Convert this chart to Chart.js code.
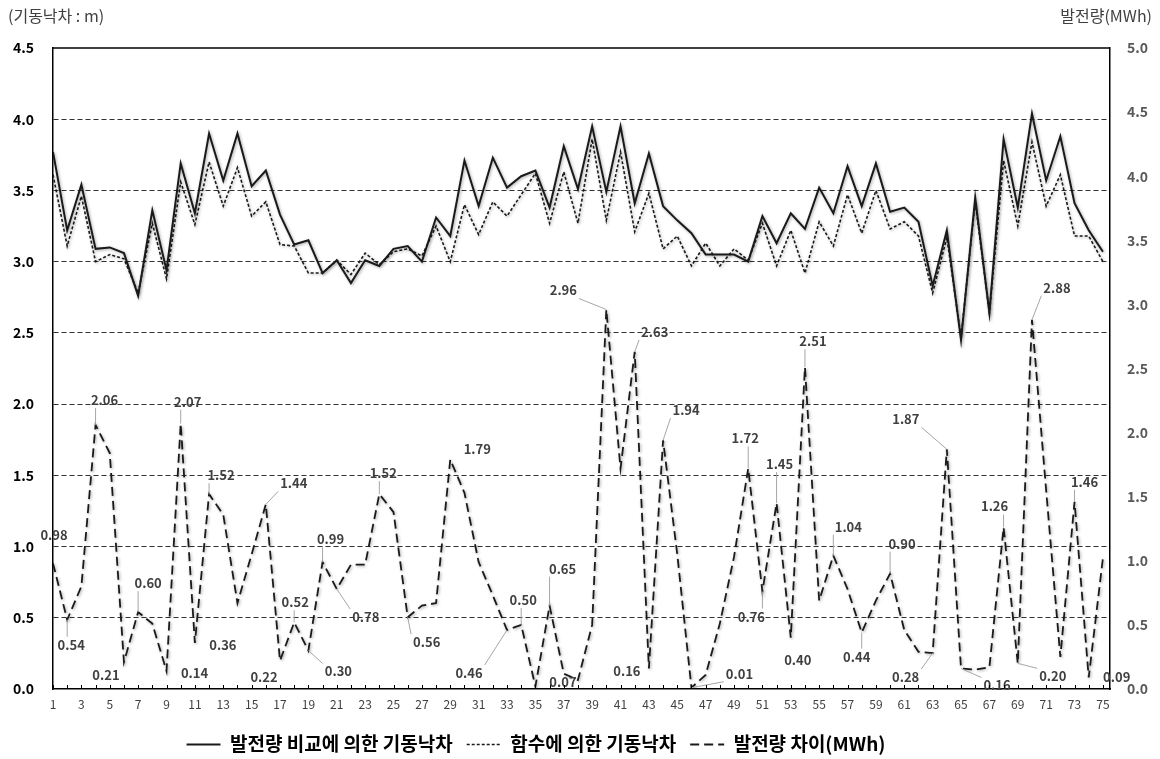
<!DOCTYPE html>
<html>
<head>
<meta charset="utf-8">
<script src="https://cdn.jsdelivr.net/npm/chart.js@4.4.1/dist/chart.umd.min.js"></script>
<style>
  html, body { margin: 0; padding: 0; background: #ffffff; }
  #wrap { width: 1160px; height: 759px; position: relative; }
</style>
</head>
<body>
<div id="wrap"><canvas id="chart" width="1160" height="759"></canvas></div>
<script>
// Case numbers along the x axis
const categories = [
  1, 2, 3, 4, 5, 6, 7, 8, 9, 10, 11, 12, 13, 14, 15, 16, 17, 18, 19, 20,
  21, 22, 23, 24, 25, 26, 27, 28, 29, 30, 31, 32, 33, 34, 35, 36, 37, 38, 39, 40,
  41, 42, 43, 44, 45, 46, 47, 48, 49, 50, 51, 52, 53, 54, 55, 56, 57, 58, 59, 60,
  61, 62, 63, 64, 65, 66, 67, 68, 69, 70, 71, 72, 73, 74, 75
];

// Start-up head (m) found by comparing generated energy
const headByGeneration = [
  3.77, 3.22, 3.54, 3.09, 3.10, 3.06, 2.76, 3.36, 2.94, 3.69,
  3.34, 3.90, 3.57, 3.90, 3.53, 3.64, 3.33, 3.12, 3.15, 2.92,
  3.01, 2.85, 3.01, 2.97, 3.09, 3.11, 3.00, 3.31, 3.18, 3.71,
  3.39, 3.73, 3.52, 3.60, 3.64, 3.38, 3.81, 3.51, 3.95, 3.49,
  3.95, 3.41, 3.76, 3.39, 3.29, 3.20, 3.05, 3.05, 3.05, 3.00,
  3.32, 3.13, 3.34, 3.23, 3.52, 3.34, 3.67, 3.39, 3.69, 3.35,
  3.38, 3.28, 2.83, 3.22, 2.45, 3.45, 2.64, 3.86, 3.38, 4.04,
  3.57, 3.88, 3.41, 3.22, 3.07
];

// Start-up head (m) given by the fitted function
const headByFunction = [
  3.61, 3.11, 3.46, 3.00, 3.05, 3.02, 2.78, 3.27, 2.88, 3.56,
  3.26, 3.70, 3.39, 3.66, 3.32, 3.42, 3.12, 3.11, 2.92, 2.92,
  3.01, 2.91, 3.06, 2.98, 3.07, 3.09, 3.04, 3.25, 3.00, 3.40,
  3.19, 3.42, 3.32, 3.47, 3.62, 3.27, 3.63, 3.27, 3.86, 3.29,
  3.77, 3.21, 3.48, 3.09, 3.18, 2.97, 3.13, 2.97, 3.09, 3.01,
  3.27, 2.97, 3.22, 2.92, 3.28, 3.11, 3.47, 3.20, 3.50, 3.23,
  3.28, 3.18, 2.78, 3.17, 2.47, 3.42, 2.64, 3.71, 3.25, 3.84,
  3.39, 3.61, 3.18, 3.18, 3.00
];

// Difference in generated energy (MWh)
const generationGap = [
  0.98, 0.54, 0.80, 2.06, 1.84, 0.21, 0.60, 0.51, 0.14, 2.07,
  0.36, 1.52, 1.36, 0.67, 1.05, 1.44, 0.22, 0.52, 0.30, 0.99,
  0.78, 0.97, 0.97, 1.52, 1.38, 0.56, 0.65, 0.67, 1.79, 1.53,
  0.99, 0.73, 0.46, 0.50, 0.02, 0.65, 0.12, 0.07, 0.50, 2.96,
  1.72, 2.63, 0.16, 1.94, 1.05, 0.01, 0.11, 0.51, 1.03, 1.72,
  0.76, 1.45, 0.40, 2.51, 0.69, 1.04, 0.78, 0.44, 0.69, 0.90,
  0.46, 0.29, 0.28, 1.87, 0.16, 0.15, 0.17, 1.26, 0.20, 2.88,
  1.55, 0.25, 1.46, 0.09, 1.02
];

// Axis ranges and steps
const headAxis = { min: 0, max: 4.5, step: 0.5 };
const energyAxis = { min: 0, max: 5.0, step: 0.5 };

const seriesNames = ['발전량 비교에 의한 기동낙차', '함수에 의한 기동낙차', '발전량 차이(MWh)'];
const headAxisTitle = '(기동낙차 : m)';
const energyAxisTitle = '발전량(MWh)';

// Value labels on the energy-gap line: [case, dx, dy, leader line]
const gapLabelLayout = [
  [1, 1, -28, 0], [2, 4, 25, 1], [4, 9, -25, 1], [6, -18, 13, 0], [7, 10, -29, 1],
  [9, 28, 2, 0], [10, 7, -22, 1], [11, 28, 2, 0], [12, 12, -19, 1], [16, 28, -21, 1],
  [17, -16, 16, 0], [18, 1, -20, 1], [19, 30, 21, 1], [20, 8, -23, 1], [21, 29, 28, 1],
  [24, 4, -21, 1], [26, 19, 25, 1], [29, 27, -10, 0], [33, -38, 43, 1], [34, 2, -25, 1],
  [36, 13, -37, 1], [38, -15, 2, 0], [40, -43, -19, 1], [42, 20, -20, 1], [43, -22, 3, 0],
  [44, 23, -30, 1], [46, 48, -14, 1], [50, -3, -30, 1], [51, -11, 25, 1], [52, 3, -39, 1],
  [53, 7, 22, 0], [54, 8, -26, 1], [56, 15, -29, 1], [58, -5, 24, 1], [60, 12, -30, 1],
  [63, -27, 24, 1], [64, -41, -30, 1], [65, 36, 17, 1], [68, -9, -21, 1], [69, 35, 13, 1],
  [70, 25, -32, 1], [73, 10, -20, 1], [74, 28, 0, 0]
];

const FONT = "'Noto Sans CJK KR', 'Noto Sans', sans-serif";
const LEGEND_SWATCH = 34;
const LEGEND_SHIFT_X = 44;
const LEGEND_SHIFT_Y = 4;

const toPoints = (vals) => categories.map((c, i) => ({ x: c, y: vals[i] }));

// Soft halo under the lines
const lineHalo = {
  id: 'lineHalo',
  beforeDatasetsDraw(chart) {
    const ctx = chart.ctx;
    ctx.save();
    ctx.shadowColor = 'rgba(0,0,0,0.35)';
    ctx.shadowBlur = 3;
    ctx.shadowOffsetX = 1;
    ctx.shadowOffsetY = 1;
  },
  afterDatasetsDraw(chart) {
    chart.ctx.restore();
  }
};

// Legend row sits slightly left of centre; swatches are drawn as real line samples
const legendSwatches = {
  id: 'legendSwatches',
  afterLayout(chart) {
    const legend = chart.legend;
    if (!legend) return;
    legend.right -= LEGEND_SHIFT_X * 2;
    legend.top += LEGEND_SHIFT_Y;
    legend.bottom += LEGEND_SHIFT_Y;
  },
  afterDraw(chart) {
    const legend = chart.legend;
    if (!legend || !legend.legendHitBoxes) return;
    const ctx = chart.ctx;
    ctx.save();
    legend.legendHitBoxes.forEach((box, i) => {
      const ds = chart.data.datasets[i];
      const y = Math.round(box.top + box.height / 2) + 0.5;
      ctx.strokeStyle = '#1a1a1a';
      ctx.lineWidth = ds.borderWidth;
      ctx.setLineDash(ds.borderDash || []);
      ctx.beginPath();
      ctx.moveTo(box.left, y);
      ctx.lineTo(box.left + LEGEND_SWATCH, y);
      ctx.stroke();
    });
    ctx.restore();
  }
};

// Plot frame, inner tick marks on the category axis, and the two axis captions
const frameAndTitles = {
  id: 'frameAndTitles',
  afterDraw(chart) {
    const { ctx, chartArea } = chart;
    const xs = chart.scales.x;
    ctx.save();
    ctx.strokeStyle = '#000';
    ctx.lineWidth = 1.5;
    ctx.beginPath();
    ctx.moveTo(chartArea.left, chartArea.top);
    ctx.lineTo(chartArea.right, chartArea.top);
    ctx.stroke();
    ctx.lineWidth = 1;
    ctx.beginPath();
    categories.forEach(c => {
      const px = Math.round(xs.getPixelForValue(c)) + 0.5;
      ctx.moveTo(px, chartArea.bottom);
      ctx.lineTo(px, chartArea.bottom - 4);
    });
    ctx.stroke();
    ctx.fillStyle = '#404040';
    ctx.font = '16px ' + FONT;
    ctx.textBaseline = 'middle';
    ctx.textAlign = 'left';
    ctx.fillText(headAxisTitle, 8, 16);
    ctx.textAlign = 'right';
    ctx.fillText(energyAxisTitle, 1152, 16);
    ctx.restore();
  }
};

// Value labels with leader lines for the energy-gap series
const gapLabels = {
  id: 'gapLabels',
  afterDatasetsDraw(chart) {
    const ctx = chart.ctx;
    const meta = chart.getDatasetMeta(2);
    ctx.save();
    ctx.font = 'bold 13px ' + FONT;
    ctx.textAlign = 'center';
    ctx.textBaseline = 'middle';
    gapLabelLayout.forEach(([cat, dx, dy, leader]) => {
      const idx = categories.indexOf(cat);
      const el = meta.data[idx];
      const text = generationGap[idx].toFixed(2);
      const lx = el.x + dx, ly = el.y + dy;
      if (leader) {
        const w = ctx.measureText(text).width / 2 + 2;
        const h = 8;
        const nx = Math.max(lx - w, Math.min(el.x, lx + w));
        const ny = Math.max(ly - h, Math.min(el.y, ly + h));
        ctx.strokeStyle = '#a6a6a6';
        ctx.lineWidth = 1;
        ctx.beginPath();
        ctx.moveTo(el.x, el.y);
        ctx.lineTo(nx, ny);
        ctx.stroke();
      }
      ctx.fillStyle = '#404040';
      ctx.fillText(text, lx, ly);
    });
    ctx.restore();
  }
};

const PLOT_BOTTOM = 689;

new Chart(document.getElementById('chart'), {
  type: 'line',
  data: {
    datasets: [
      {
        label: seriesNames[0],
        data: toPoints(headByGeneration),
        yAxisID: 'yHead',
        borderColor: '#1a1a1a',
        backgroundColor: '#1a1a1a',
        borderWidth: 2,
        pointRadius: 0,
        tension: 0
      },
      {
        label: seriesNames[1],
        data: toPoints(headByFunction),
        yAxisID: 'yHead',
        borderColor: '#1a1a1a',
        backgroundColor: '#1a1a1a',
        borderWidth: 1.6,
        borderDash: [3, 2],
        pointRadius: 0,
        tension: 0
      },
      {
        label: seriesNames[2],
        data: toPoints(generationGap),
        yAxisID: 'yEnergy',
        borderColor: '#1a1a1a',
        backgroundColor: '#1a1a1a',
        borderWidth: 1.8,
        borderDash: [9, 5],
        pointRadius: 0,
        tension: 0
      }
    ]
  },
  options: {
    responsive: false,
    animation: false,
    devicePixelRatio: 1,
    layout: { padding: { top: 48, left: 0, right: 0, bottom: 0 } },
    plugins: {
      tooltip: { enabled: false },
      legend: {
        position: 'bottom',
        labels: {
          boxWidth: LEGEND_SWATCH,
          boxHeight: 2,
          padding: 14,
          color: '#000',
          font: { family: FONT, size: 19, weight: 'bold' },
          generateLabels(chart) {
            return Chart.defaults.plugins.legend.labels.generateLabels(chart).map(item => ({
              ...item,
              fillStyle: 'rgba(0,0,0,0)',
              strokeStyle: 'rgba(0,0,0,0)',
              lineWidth: 0
            }));
          }
        }
      }
    },
    scales: {
      x: {
        type: 'linear',
        min: 1,
        max: 75.5,
        grid: { display: false, drawTicks: false },
        border: { display: true, color: '#000', width: 1.5 },
        afterBuildTicks(scale) {
          scale.ticks = categories.filter(c => c % 2 === 1).map(v => ({ value: v }));
        },
        ticks: {
          autoSkip: false,
          maxRotation: 0,
          padding: 8,
          color: '#404040',
          font: { family: FONT, size: 12 },
          callback: (v) => String(v)
        },
        afterFit(scale) {
          const legendH = scale.chart.legend ? scale.chart.legend.height : 0;
          scale.height = 759 - legendH - PLOT_BOTTOM;
        }
      },
      yHead: {
        position: 'left',
        min: headAxis.min,
        max: headAxis.max,
        grid: {
          drawTicks: false,
          lineWidth: 1,
          color: (c) => (c.tick && (c.tick.value === headAxis.min || c.tick.value === headAxis.max) ? 'rgba(0,0,0,0)' : '#303030')
        },
        border: { display: true, color: '#000', width: 1.5, dash: [5, 3] },
        ticks: {
          stepSize: headAxis.step,
          padding: 19,
          color: '#000',
          font: { family: FONT, size: 14, weight: 'bold' },
          callback: (v) => v.toFixed(1)
        },
        afterFit(scale) { scale.width = 53; }
      },
      yEnergy: {
        position: 'right',
        min: energyAxis.min,
        max: energyAxis.max,
        grid: { drawOnChartArea: false, drawTicks: false },
        border: { display: true, color: '#000', width: 1.5 },
        ticks: {
          stepSize: energyAxis.step,
          padding: 17,
          color: '#595959',
          font: { family: FONT, size: 14, weight: 'bold' },
          callback: (v) => v.toFixed(1)
        },
        afterFit(scale) { scale.width = 50; }
      }
    }
  },
  plugins: [lineHalo, gapLabels, legendSwatches, frameAndTitles]
});
</script>
</body>
</html>
